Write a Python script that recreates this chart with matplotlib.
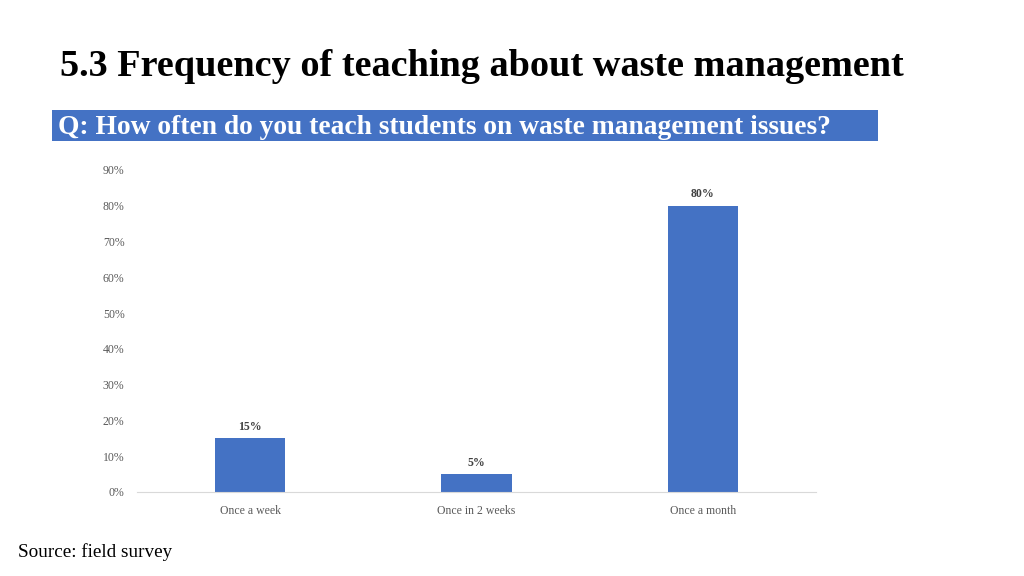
import matplotlib
matplotlib.use("Agg")
import matplotlib.pyplot as plt
from matplotlib.patches import Rectangle

categories = ["Once a week", "Once in 2 weeks", "Once a month"]
values = [0.15, 0.05, 0.80]
value_labels = ["15%", "5%", "80%"]
yticks = [0.0, 0.1, 0.2, 0.3, 0.4, 0.5, 0.6, 0.7, 0.8, 0.9]
ytick_labels = ["0%", "10%", "20%", "30%", "40%", "50%", "60%", "70%", "80%", "90%"]

title = "5.3 Frequency of teaching about waste management"
question = "Q: How often do you teach students on waste management issues?"
source = "Source: field survey"

W, H = 1024, 576
fig = plt.figure(figsize=(W / 100, H / 100), dpi=100)
serif = ["Liberation Serif", "DejaVu Serif"]

# Title
fig.text(60 / W, 1 - 67 / H, title, fontsize=27.5, fontweight="bold",
         family=serif, color="black", va="center", ha="left")

# Question box
fig.patches.append(Rectangle((52 / W, 1 - 141 / H), (878 - 52) / W, 31 / H,
                             transform=fig.transFigure, facecolor="#4472C4",
                             edgecolor="none"))
fig.text(58 / W, 1 - 128 / H, question, fontsize=19.8, fontweight="bold",
         family=serif, color="white", va="center", ha="left")

# Chart axes
ax = fig.add_axes([137 / W, 1 - 492 / H, (816 - 137) / W, (492 - 170) / H])
x = range(len(categories))
ax.bar(x, values, width=0.31, color="#4472C4")
ax.set_xlim(-0.5, 2.5)
ax.set_ylim(0, 0.9)
ax.set_yticks(yticks)
ax.set_yticklabels(ytick_labels, family=serif, fontsize=8.5, color="#595959")
ax.set_xticks(list(x))
ax.set_xticklabels(categories, family=serif, fontsize=8.5, color="#595959")
ax.tick_params(length=0, pad=9)
ax.tick_params(axis="x", pad=9)
for s in ["top", "right", "left"]:
    ax.spines[s].set_visible(False)
ax.spines["bottom"].set_color("#D9D9D9")
for xi, v, lab in zip(x, values, value_labels):
    ax.annotate(lab, (xi, v), xytext=(0, 4), textcoords="offset points",
                ha="center", va="bottom", family=serif, fontsize=8.5,
                fontweight="bold", color="#404040")

fig.text(18 / W, 1 - 552 / H, source, fontsize=13.8, family=serif,
         color="black", va="center", ha="left")

fig.savefig("out.png", dpi=100)
